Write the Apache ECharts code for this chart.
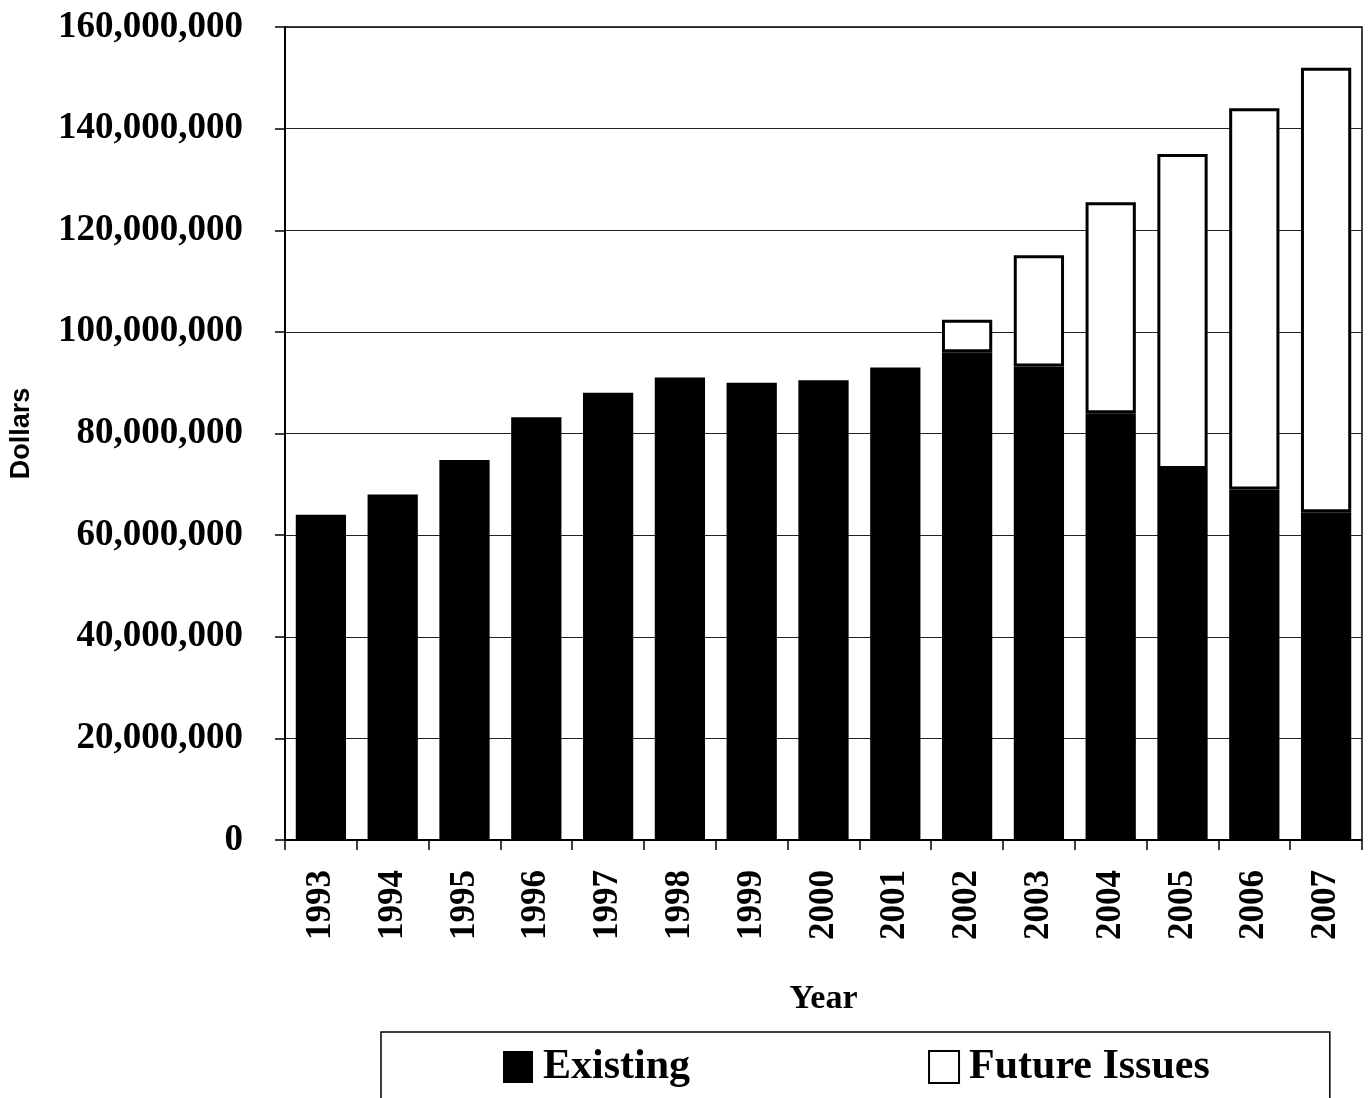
<!DOCTYPE html>
<html>
<head>
<meta charset="utf-8">
<script src="https://cdn.jsdelivr.net/npm/echarts@6/dist/echarts.min.js"></script>
<style>
  html, body { margin: 0; padding: 0; background: #fff; }
  #chart { width: 1369px; height: 1098px; }
</style>
</head>
<body>
<div id="chart"></div>
<script>
// Annual dollar amounts, split into existing and future issues
const years = ['1993','1994','1995','1996','1997','1998','1999','2000','2001','2002','2003','2004','2005','2006','2007'];
const existing = [64000000, 68000000, 74800000, 83200000, 88000000, 91000000, 90000000, 90500000, 93000000,
                  96000000, 93200000, 84000000, 73000000, 69000000, 64500000];
const futureIssues = [null, null, null, null, null, null, null, null, null,
                      6400000, 21900000, 41500000, 62000000, 75000000, 87500000];
const yTicks = { min: 0, max: 160000000, interval: 20000000 };

const serif = '"Liberation Serif", "DejaVu Serif", serif';

const chart = echarts.init(document.getElementById('chart'), null, { renderer: 'canvas' });
chart.setOption({
  backgroundColor: '#ffffff',
  animation: false,
  grid: {
    left: 285, right: 7, top: 27, bottom: 258,
    outerBoundsMode: 'none',
    containLabel: false,
    show: true, borderColor: '#000', borderWidth: 1.5, backgroundColor: 'transparent'
  },
  legend: {
    left: 381, top: 1032,
    padding: [14, 120, 30, 122],
    itemGap: 238,
    itemWidth: 30, itemHeight: 32,
    borderColor: '#000', borderWidth: 1.5,
    icon: 'rect',
    textStyle: { fontFamily: serif, fontWeight: 'bold', fontSize: 42, color: '#000', padding: [0, 0, 0, 5] },
    data: ['Existing', 'Future Issues']
  },
  xAxis: {
    type: 'category',
    data: years,
    name: 'Year',
    nameLocation: 'middle',
    nameGap: 142,
    nameTextStyle: { fontFamily: serif, fontWeight: 'bold', fontSize: 34, color: '#000' },
    axisLine: { lineStyle: { color: '#000', width: 2 } },
    axisTick: { show: true, length: 10, lineStyle: { color: '#000', width: 1.5 } },
    axisLabel: {
      rotate: 90, margin: 30,
      fontFamily: serif, fontWeight: 'bold', fontSize: 35, color: '#000'
    }
  },
  yAxis: {
    type: 'value',
    min: yTicks.min, max: yTicks.max, interval: yTicks.interval,
    name: 'Dollars',
    nameLocation: 'middle',
    nameGap: 250,
    nameRotate: 90,
    nameTextStyle: { fontFamily: '"Liberation Sans", Arial, sans-serif', fontWeight: 'bold', fontSize: 27, color: '#000' },
    axisLine: { show: true, lineStyle: { color: '#000', width: 2 } },
    axisTick: { show: true, length: 10, lineStyle: { color: '#000', width: 1.5 } },
    splitLine: { show: true, lineStyle: { color: '#222', width: 1.2 } },
    axisLabel: {
      margin: 42,
      fontFamily: serif, fontWeight: 'bold', fontSize: 37, color: '#000',
      formatter: v => v.toLocaleString('en-US')
    }
  },
  series: [
    {
      name: 'Existing', type: 'bar', stack: 'total',
      barWidth: '70%',
      data: existing,
      itemStyle: { color: '#000', borderColor: '#000', borderWidth: 0 }
    },
    {
      name: 'Future Issues', type: 'bar', stack: 'total',
      barWidth: '70%',
      data: futureIssues,
      itemStyle: { color: '#fff', borderColor: '#000', borderWidth: 3 }
    }
  ]
});
</script>
</body>
</html>
